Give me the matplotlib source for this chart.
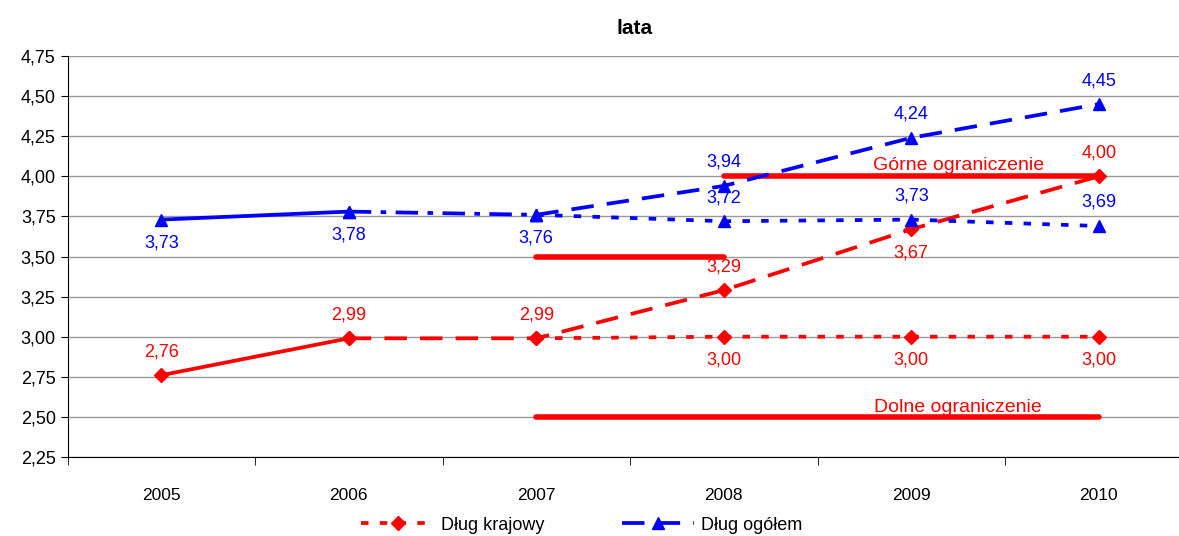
import matplotlib.pyplot as plt
from matplotlib.ticker import FixedLocator, FuncFormatter
from matplotlib.lines import Line2D

plt.rcParams['font.family'] = ['Liberation Sans', 'DejaVu Sans']

years = ['2005', '2006', '2007', '2008', '2009', '2010']

# Dług krajowy (red)
red_hist = [2.76, 2.99]                      # 2005-2006
red_up = [2.99, 2.99, 3.29, 3.67, 4.00]      # 2006-2010
red_flat = [2.99, 3.00, 3.00, 3.00]          # 2007-2010

# Dług ogółem (blue)
blue_hist = [3.73, 3.78]                     # 2005-2006
blue_link = [3.78, 3.76]                     # 2006-2007
blue_up = [3.76, 3.94, 4.24, 4.45]           # 2007-2010
blue_flat = [3.76, 3.72, 3.73, 3.69]         # 2007-2010

# limits (Górne / Dolne ograniczenie)
upper_mid = [3.50, 3.50]    # 2007-2008
upper = [4.00, 4.00]        # 2008-2010
lower = [2.50, 2.50]        # 2007-2010

RED = '#ff0000'
BLUE = '#0000ff'

fig = plt.figure(figsize=(11.79, 5.36), dpi=100)
ax = fig.add_axes([67.5 / 1179, 79 / 536, 1125 / 1179, 401 / 536])

x = list(range(len(years)))
LW = 2.7
DASH = (0, (6, 3.5))
DOT = (0, (2, 3))
dm = dict(marker='D', markersize=7)
tm = dict(marker='^', markersize=8.5)

# limit lines
ax.plot([2, 3], upper_mid, color=RED, lw=4, solid_capstyle='round', zorder=2)
ax.plot([3, 5], upper, color=RED, lw=4, solid_capstyle='round', zorder=2)
ax.plot([2, 5], lower, color=RED, lw=4, solid_capstyle='round', zorder=2)

# red series
ax.plot(x[0:2], red_hist, color=RED, lw=LW, **dm, zorder=3)
ax.plot(x[1:6], red_up, color=RED, lw=LW, ls=DASH, **dm, zorder=3)
ax.plot(x[2:6], red_flat, color=RED, lw=LW, ls=DOT, **dm, zorder=3)

# blue series
ax.plot(x[0:2], blue_hist, color=BLUE, lw=LW, **tm, zorder=3)
ax.plot(x[1:3], blue_link, color=BLUE, lw=LW, ls=(0, (6, 2.5, 1.5, 2.5)), **tm, zorder=3)
ax.plot(x[2:6], blue_up, color=BLUE, lw=LW, ls=DASH, **tm, zorder=3)
ax.plot(x[2:6], blue_flat, color=BLUE, lw=LW, ls=DOT, **tm, zorder=3)


def lab(xi, v, color, up):
    ax.annotate(f'{v:.2f}'.replace('.', ','), (xi, v), xytext=(0, 17 if up else -17),
                textcoords='offset points', ha='center', va='center',
                color=color, fontsize=13)


# red labels
lab(0, red_hist[0], RED, True)
lab(1, red_hist[1], RED, True)
lab(2, red_up[1], RED, True)
lab(3, red_up[2], RED, True)
lab(4, red_up[3], RED, False)
lab(5, red_up[4], RED, True)
for i, v in enumerate(red_flat[1:]):
    lab(3 + i, v, RED, False)

# blue labels
lab(0, blue_hist[0], BLUE, False)
lab(1, blue_hist[1], BLUE, False)
lab(2, blue_link[1], BLUE, False)
for i, v in enumerate(blue_up[1:]):
    lab(3 + i, v, BLUE, True)
for i, v in enumerate(blue_flat[1:]):
    lab(3 + i, v, BLUE, True)

ax.text(4.25, upper[0] + 0.065, 'Górne ograniczenie', color=RED, fontsize=14,
        ha='center', va='center')
ax.text(4.25, lower[0] + 0.06, 'Dolne ograniczenie', color=RED, fontsize=14,
        ha='center', va='center')

ax.set_xlim(-0.5, 5.5)
ax.set_ylim(2.25, 4.75)
ax.set_xticks(x)
ax.set_xticklabels(years)
ax.xaxis.set_minor_locator(FixedLocator([i - 0.5 for i in range(7)]))
ax.tick_params(axis='x', which='major', length=0, pad=22, labelsize=12.5)
ax.tick_params(axis='x', which='minor', length=6, direction='out')
ax.yaxis.set_major_locator(FixedLocator([2.25 + 0.25 * i for i in range(11)]))
ax.yaxis.set_major_formatter(FuncFormatter(lambda v, p: f'{v:.2f}'.replace('.', ',')))
ax.tick_params(axis='y', length=5, direction='out', labelsize=13)
ax.grid(axis='y', color='#999999', lw=1)
ax.set_axisbelow(True)
for s in ['top', 'right']:
    ax.spines[s].set_visible(False)

fig.text(635 / 1179, 1 - 28 / 536, 'lata', fontsize=15, fontweight='bold',
         ha='center', va='center')

handles = [
    Line2D([], [], color=RED, lw=LW, ls=DOT, **dm),
    Line2D([], [], color=BLUE, lw=LW, ls=DASH, **tm),
]
fig.legend(handles, ['Dług krajowy', 'Dług ogółem'], loc='center',
           bbox_to_anchor=(582 / 1179, 1 - 525 / 536), ncol=2, frameon=False,
           fontsize=13, handlelength=4, handletextpad=0.4, columnspacing=4.3,
           borderpad=0)

fig.savefig('out.png', dpi=100)
